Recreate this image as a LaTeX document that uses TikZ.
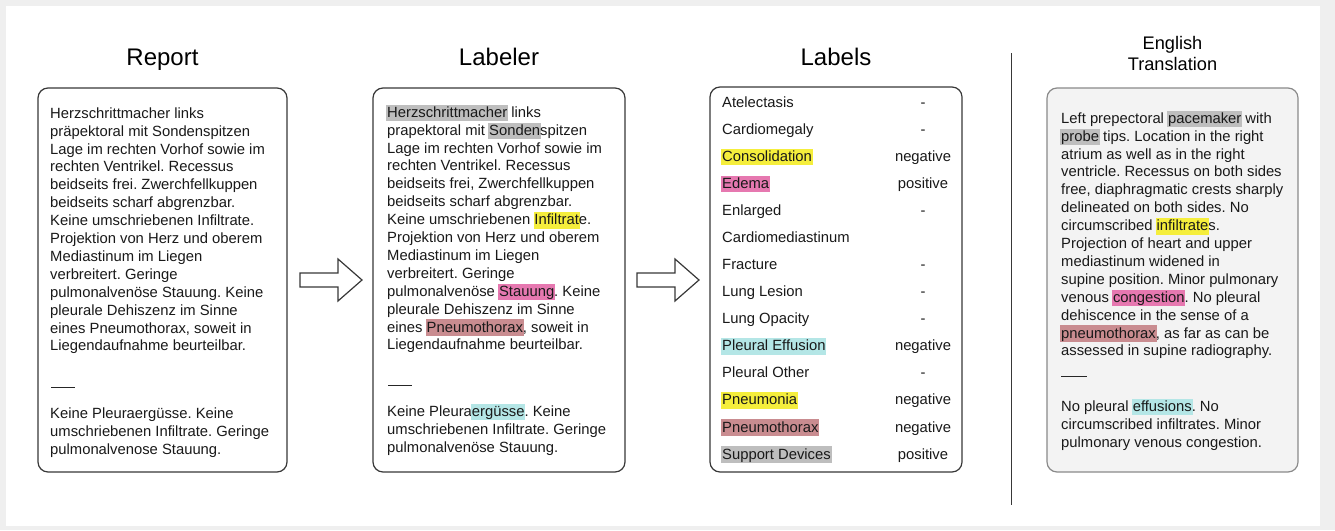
\documentclass[tikz,border=0pt]{standalone}
\usepackage{fontspec}
\setmainfont{Liberation Sans}
\frenchspacing
\definecolor{hlyellow}{HTML}{F5EE3C}
\definecolor{hlpink}{HTML}{E678B0}
\definecolor{hlcyan}{HTML}{B4E6E6}
\definecolor{hlrose}{HTML}{C98C90}
\definecolor{hlgray}{HTML}{BEBEBE}
\definecolor{framegray}{HTML}{EFEFEF}
\definecolor{boxline}{HTML}{383838}
\definecolor{engfill}{HTML}{F3F3F3}
\definecolor{engline}{HTML}{8A8A8A}
\newcommand\hlw[2]{\hspace{-0.8pt}{\setlength\fboxsep{0.8pt}\colorbox{#1}{\rule[-3.3pt]{0pt}{15.1pt}#2}}\hspace{-0.8pt}}
\newcommand\fst{\rule{0pt}{12.6pt}}
\newcommand\sepdash{\rule{24pt}{0.9pt}}
\tikzset{
  panel/.style={draw=boxline, line width=1.2pt, rounded corners=10pt, inner sep=0pt, outer sep=0pt},
  engpanel/.style={draw=engline, fill=engfill, line width=1.2pt, rounded corners=10pt, inner sep=0pt, outer sep=0pt},
  title/.style={font=\fontsize{24}{28}\selectfont, inner sep=0pt, anchor=base},
  smalltitle/.style={font=\fontsize{18.2}{21}\selectfont, inner sep=0pt, align=center, anchor=north},
  txt/.style={font=\fontsize{14.8}{17.9}\selectfont, inner sep=0pt, align=left, anchor=north west, text=black!90},
  lbl/.style={font=\fontsize{14.8}{17.9}\selectfont, inner sep=0pt, anchor=base west, text=black!90},
  val/.style={font=\fontsize{14.8}{17.9}\selectfont, inner sep=0pt, anchor=base, text=black!90},
  dashnode/.style={inner sep=0pt, anchor=west, text=black!85},
  blockarr/.style={draw=boxline, line width=1.2pt, fill=white, line join=miter},
}
\begin{document}
\begin{tikzpicture}[x=1pt,y=-1pt]
\useasboundingbox (0,0) rectangle (1335,530);
\fill[framegray] (0,0) rectangle (1335,530);
\fill[white] (6,6) rectangle (1320,526);

% titles
\node[title] (treport) at (162.5,65) {Report};
\node[title] (tlabeler) at (499,65) {Labeler};
\node[title] (tlabels) at (836,65) {Labels};
\node[smalltitle] (tenglish) at (1172.5,36.5) {English\\Translation};

% panels
\node[panel, minimum width=249pt, minimum height=384pt] (repbox) at (162.5,280) {};
\node[panel, minimum width=252pt, minimum height=384pt] (labbox) at (499,280) {};
\node[panel, minimum width=252pt, minimum height=385pt] (lblbox) at (836,279.5) {};
\node[engpanel, minimum width=251pt, minimum height=384pt] (engbox) at (1172.5,280) {};

% separator
\coordinate (septop) at (1011.5,53);
\coordinate (sepbot) at (1011.5,505);
\draw[boxline, line width=1.8pt] (septop) -- (sepbot);

% block arrows
\coordinate (a1) at (300,280);
\draw[blockarr] (a1) ++(0,-7) -- ++(38,0) -- ++(0,-14) -- ++(24,21) -- ++(-24,21) -- ++(0,-14) -- ++(-38,0) -- cycle;
\coordinate (a2) at (637,280);
\draw[blockarr] (a2) ++(0,-7) -- ++(38,0) -- ++(0,-14) -- ++(24,21) -- ++(-24,21) -- ++(0,-14) -- ++(-38,0) -- cycle;

% Report text
\node[txt] (reptext) at (50,105.4) {\fst Herzschrittmacher links\\
präpektoral mit Sondenspitzen\\
Lage im rechten Vorhof sowie im\\
rechten Ventrikel. Recessus\\
beidseits frei. Zwerchfellkuppen\\
beidseits scharf abgrenzbar.\\
Keine umschriebenen Infiltrate.\\
Projektion von Herz und oberem\\
Mediastinum im Liegen\\
verbreitert. Geringe\\
pulmonalvenöse Stauung. Keine\\
pleurale Dehiszenz im Sinne\\
eines Pneumothorax, soweit in\\
Liegendaufnahme beurteilbar.};
\node[dashnode] (repdash) at (51,387) {\sepdash};
\node[txt] (reptext2) at (50,405.4) {\fst Keine Pleuraergüsse. Keine\\
umschriebenen Infiltrate. Geringe\\
pulmonalvenose Stauung.};

% Labeler text
\node[txt] (labtext) at (387,104.4) {\fst\hlw{hlgray}{Herzschrittmacher} links\\
prapektoral mit \hlw{hlgray}{Sonden}spitzen\\
Lage im rechten Vorhof sowie im\\
rechten Ventrikel. Recessus\\
beidseits frei, Zwerchfellkuppen\\
beidseits scharf abgrenzbar.\\
Keine umschriebenen \hlw{hlyellow}{Infiltrat}e.\\
Projektion von Herz und oberem\\
Mediastinum im Liegen\\
verbreitert. Geringe\\
pulmonalvenöse \hlw{hlpink}{Stauung}. Keine\\
pleurale Dehiszenz im Sinne\\
eines \hlw{hlrose}{Pneumothorax}, soweit in\\
Liegendaufnahme beurteilbar.};
\node[dashnode] (labdash) at (388,385) {\sepdash};
\node[txt] (labtext2) at (387,403.4) {\fst Keine Pleura\hlw{hlcyan}{ergüsse}. Keine\\
umschriebenen Infiltrate. Geringe\\
pulmonalvenöse Stauung.};

% Labels list
\node[lbl] (l1) at (722,107.0) {Atelectasis};
\node[lbl] (l2) at (722,134.1) {Cardiomegaly};
\node[lbl] (l3) at (722,161.2) {\hlw{hlyellow}{Consolidation}};
\node[lbl] (l4) at (722,188.2) {\hlw{hlpink}{Edema}};
\node[lbl] (l5) at (722,215.3) {Enlarged};
\node[lbl] (l6) at (722,242.4) {Cardiomediastinum};
\node[lbl] (l7) at (722,269.5) {Fracture};
\node[lbl] (l8) at (722,296.6) {Lung Lesion};
\node[lbl] (l9) at (722,323.6) {Lung Opacity};
\node[lbl] (l10) at (722,350.7) {\hlw{hlcyan}{Pleural Effusion}};
\node[lbl] (l11) at (722,377.8) {Pleural Other};
\node[lbl] (l12) at (722,404.9) {\hlw{hlyellow}{Pneumonia}};
\node[lbl] (l13) at (722,432.0) {\hlw{hlrose}{Pneumothorax}};
\node[lbl] (l14) at (722,459.0) {\hlw{hlgray}{Support Devices}};

\node[val] (v1) at (923,107.0) {-};
\node[val] (v2) at (923,134.1) {-};
\node[val] (v3) at (923,161.2) {negative};
\node[val] (v4) at (923,188.2) {positive};
\node[val] (v5) at (923,215.3) {-};
\node[val] (v7) at (923,269.5) {-};
\node[val] (v8) at (923,296.6) {-};
\node[val] (v9) at (923,323.6) {-};
\node[val] (v10) at (923,350.7) {negative};
\node[val] (v11) at (923,377.8) {-};
\node[val] (v12) at (923,404.9) {negative};
\node[val] (v13) at (923,432.0) {negative};
\node[val] (v14) at (923,459.0) {positive};

% English text
\node[txt] (engtext) at (1061,110.4) {\fst Left prepectoral \hlw{hlgray}{pacemaker} with\\
\hlw{hlgray}{probe} tips. Location in the right\\
atrium as well as in the right\\
ventricle. Recessus on both sides\\
free, diaphragmatic crests sharply\\
delineated on both sides. No\\
circumscribed \hlw{hlyellow}{infiltrate}s.\\
Projection of heart and upper\\
mediastinum widened in\\
supine position. Minor pulmonary\\
venous \hlw{hlpink}{congestion}. No pleural\\
dehiscence in the sense of a\\
\hlw{hlrose}{pneumothorax}, as far as can be\\
assessed in supine radiography.};
\node[dashnode] (engdash) at (1061,376) {\rule{26pt}{0.9pt}};
\node[txt] (engtext2) at (1061,398.4) {\fst No pleural \hlw{hlcyan}{effusions}. No\\
circumscribed infiltrates. Minor\\
pulmonary venous congestion.};
\end{tikzpicture}
\end{document}
